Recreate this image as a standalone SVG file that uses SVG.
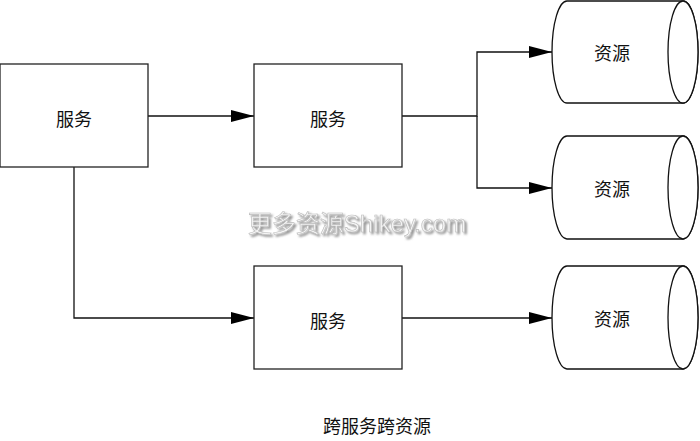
<svg xmlns="http://www.w3.org/2000/svg" width="700" height="441" viewBox="0 0 700 441">
<style>
.box{fill:#fff;stroke:#222;stroke-width:1.3}
.cyl{fill:#fff;stroke:#111;stroke-width:1.3}
.lbl{font-family:"Liberation Serif","Noto Sans CJK SC",serif;font-size:18px;fill:#111;text-anchor:middle}
.conn{fill:none;stroke:#111;stroke-width:1.3}
.wm{font-family:"Liberation Sans","Noto Sans CJK SC",sans-serif;font-size:24px;text-anchor:middle}
</style>
<defs>
<marker id="arr" markerWidth="23" markerHeight="12" refX="23" refY="6" orient="auto" markerUnits="userSpaceOnUse">
<path d="M0,0 L23,6 L0,12 Z" fill="#000"/>
</marker>
<filter id="shadow" x="-10%" y="-30%" width="120%" height="160%">
<feDropShadow dx="2" dy="2" stdDeviation="1" flood-color="#888" flood-opacity="0.9"/>
</filter>
</defs>
<rect width="700" height="441" fill="#fff"/>
<g id="connectors">
<path class="conn" d="M148,116 H254" marker-end="url(#arr)"/>
<path class="conn" d="M74,167 V318 H254" marker-end="url(#arr)"/>
<path class="conn" d="M402,116 H477 V52 H552" marker-end="url(#arr)"/>
<path class="conn" d="M477,116 V188 H552" marker-end="url(#arr)"/>
<path class="conn" d="M402,318 H552" marker-end="url(#arr)"/>
</g>
<g id="svc1"><rect class="box" x="0" y="64" width="148" height="103"/><text class="lbl" x="74" y="126">服务</text></g>
<g id="svc2"><rect class="box" x="254" y="64" width="148" height="103"/><text class="lbl" x="328" y="126">服务</text></g>
<g id="svc3"><rect class="box" x="254" y="266" width="148" height="103"/><text class="lbl" x="328" y="328">服务</text></g>
<g id="res1">
<path class="cyl" d="M567,1 H683 A15,51 0 0 1 683,103 H567 A15,51 0 0 1 567,1 Z"/>
<ellipse class="cyl" cx="683" cy="52" rx="15" ry="51"/>
<text class="lbl" x="612" y="60">资源</text>
</g>
<g id="res2">
<path class="cyl" d="M567,136 H683 A15,51.5 0 0 1 683,239 H567 A15,51.5 0 0 1 567,136 Z"/>
<ellipse class="cyl" cx="683" cy="187.5" rx="15" ry="51.5"/>
<text class="lbl" x="612" y="196">资源</text>
</g>
<g id="res3">
<path class="cyl" d="M567,266 H683 A15,51.5 0 0 1 683,369 H567 A15,51.5 0 0 1 567,266 Z"/>
<ellipse class="cyl" cx="683" cy="317.5" rx="15" ry="51.5"/>
<text class="lbl" x="612" y="326">资源</text>
</g>
<g id="watermark">
<text class="wm" x="357" y="232" fill="#f4f4f4" stroke="#bbb" stroke-width="0.6" filter="url(#shadow)">更多资源Shikey.com</text>
</g>
<text class="lbl" x="377" y="433">跨服务跨资源</text>
</svg>
